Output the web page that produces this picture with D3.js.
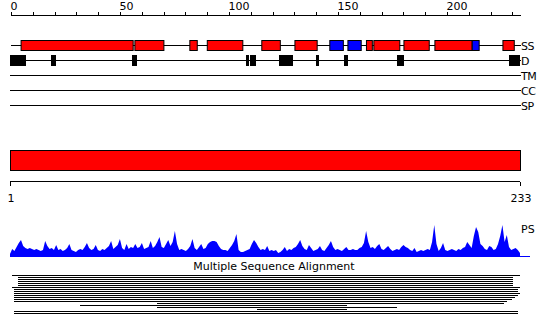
<!DOCTYPE html>
<html>
<head>
<meta charset="utf-8">
<script src="https://cdn.jsdelivr.net/npm/d3@7"></script>
<style>
  body { margin: 0; background: #fff; }
  svg { display: block; font-family: "DejaVu Sans", sans-serif; }
  text { fill: #000; }
</style>
</head>
<body>
<svg width="550" height="335"></svg>
<script>
// sequence length and top axis ticks
const seqLength = 233;
const topTicks = [0, 10, 20, 30, 40, 50, 60, 70, 80, 90, 100, 110, 120, 130, 140, 150, 160, 170, 180, 190, 200, 210, 220, 230];
const topLabels = [0, 50, 100, 150, 200];

// secondary structure (H = helix, E = strand), positions on the top axis
const ssFrom = [4.4, 56.6, 81.8, 89.8, 114.8, 130, 146, 154.3, 162.8, 166.2, 180, 194.2, 211.3, 225.4];
const ssTo   = [55.8, 69.9, 85.2, 106.1, 123.3, 140.2, 152.2, 160.4, 165.5, 178.1, 191.6, 211.3, 214.5, 230.6];
const ssType = ["H", "H", "H", "H", "H", "H", "E", "E", "H", "H", "H", "H", "E", "H"];

// disordered regions
const dFrom = [-0.5, 18.3, 55.5, 107.8, 109.8, 123.1, 139.9, 152.8, 177.1, 228.4];
const dTo   = [6.9, 20.6, 57.8, 109.3, 112.4, 129.2, 141.3, 154.6, 180.3, 233.5];

const trackNames = ["SS", "D", "TM", "CC", "SP"];

// domain bar and ruler
const domainFrom = 1, domainTo = 233;
const rulerLabels = [1, 233];

// per-residue PS profile
const psValues = [
  2, 7, 5, 9, 13, 16, 10, 8, 7, 8,
  7, 6, 7, 6, 5, 6, 15, 10, 7, 8,
  6, 11, 6, 7, 5, 6, 8, 12, 6, 5,
  4, 6, 7, 6, 9, 13, 8, 6, 7, 11,
  6, 5, 7, 6, 8, 10, 15, 7, 9, 11,
  17, 8, 6, 12, 7, 9, 8, 12, 8, 9,
  13, 7, 8, 9, 15, 8, 10, 14, 19, 9,
  8, 12, 16, 10, 14, 25, 12, 6, 7, 6,
  5, 7, 10, 17, 8, 6, 9, 12, 7, 8,
  12, 14, 15, 15, 14, 10, 7, 6, 6, 5,
  8, 11, 15, 22, 6, 4, 4, 5, 6, 7,
  12, 16, 13, 9, 6, 7, 6, 10, 5, 6,
  5, 6, 3, 4, 6, 9, 5, 7, 6, 8,
  9, 12, 16, 10, 7, 6, 11, 8, 5, 6,
  7, 10, 6, 5, 8, 11, 15, 9, 6, 7,
  6, 5, 7, 9, 6, 6, 7, 6, 6, 8,
  9, 13, 25, 14, 8, 9, 7, 10, 12, 7,
  6, 8, 10, 7, 5, 6, 7, 6, 9, 11,
  9, 8, 6, 5, 8, 4, 5, 6, 5, 6,
  7, 6, 14, 31, 12, 5, 8, 13, 6, 5,
  6, 7, 6, 5, 7, 6, 8, 9, 14, 11,
  8, 20, 29, 24, 12, 10, 7, 6, 10, 9,
  6, 7, 12, 20, 31, 14, 21, 9, 6, 7,
  8, 6, 3
];

// multiple sequence alignment rows (residue ranges)
const msaFrom = [1.9, 4.5, 4.5, 4.5, 4.5, 4.5, 1.9, 2.8, 2.8, 2.8, 2.8, 2.8, 2.8, 2.8, 67.9, 32.8, 67.9, 113.4, 2.8, 2.8];
const msaTo   = [233, 229.8, 229.8, 229.8, 229.8, 229.8, 233, 232, 232, 233, 232, 230.7, 229.2, 227, 225.7, 154.3, 177, 154.3, 232, 232];

const svg = d3.select("svg");

const x = d3.scaleLinear().domain([0, seqLength]).range([11, 519]);
const xr = d3.scaleLinear().domain([domainFrom, domainTo]).range([10, 520]);

// top axis
const axis = d3.axisTop(x)
  .tickValues(topTicks)
  .tickSize(4)
  .tickSizeOuter(0)
  .tickFormat(d => topLabels.includes(d) ? d : "");

const ax = svg.append("g")
  .attr("transform", "translate(0,15.5)")
  .call(axis);
ax.select(".domain").remove();
ax.selectAll("line").attr("stroke", "#000").attr("shape-rendering", "crispEdges");
ax.selectAll("text")
  .attr("text-anchor", "start")
  .attr("dx", -1)
  .attr("y", -6)
  .attr("font-size", 11)
  .attr("font-family", "DejaVu Sans");
ax.append("line")
  .attr("x1", 11).attr("x2", 521)
  .attr("stroke", "#000")
  .attr("shape-rendering", "crispEdges");

// tracks
const trackY = d3.scalePoint().domain(trackNames).range([45, 105]);

svg.append("g").selectAll("line")
  .data(trackNames)
  .join("line")
  .attr("x1", (d, i) => i === 0 ? 11 : 10)
  .attr("x2", 521)
  .attr("y1", d => trackY(d) + 0.5)
  .attr("y2", d => trackY(d) + 0.5)
  .attr("stroke", "#000")
  .attr("shape-rendering", "crispEdges");

svg.append("g").selectAll("text")
  .data(trackNames)
  .join("text")
  .attr("x", 521)
  .attr("y", d => trackY(d) + 5)
  .attr("font-size", 11)
  .attr("letter-spacing", -0.5)
  .text(d => d);

svg.append("g").selectAll("rect")
  .data(ssFrom.map((f, i) => ({ from: f, to: ssTo[i], type: ssType[i] })))
  .join("rect")
  .attr("x", d => x(d.from) + 0.5)
  .attr("y", trackY("SS") - 4.5)
  .attr("width", d => x(d.to) - x(d.from))
  .attr("height", 10)
  .attr("fill", d => d.type === "E" ? "#0000ff" : "#ff0000")
  .attr("stroke", "#000");

svg.append("g").selectAll("rect")
  .data(dFrom.map((f, i) => ({ from: f, to: dTo[i] })))
  .join("rect")
  .attr("x", d => x(d.from))
  .attr("y", trackY("D") - 5)
  .attr("width", d => x(d.to) - x(d.from))
  .attr("height", 11)
  .attr("fill", "#000")
  .attr("shape-rendering", "crispEdges");

// domain bar
svg.append("rect")
  .attr("x", xr(domainFrom) + 0.5)
  .attr("y", 150.5)
  .attr("width", xr(domainTo) - xr(domainFrom))
  .attr("height", 20)
  .attr("fill", "#ff0000")
  .attr("stroke", "#000");

// ruler
const ruler = svg.append("g").attr("transform", "translate(0,181.5)");
ruler.append("line")
  .attr("x1", xr(domainFrom)).attr("x2", xr(domainTo))
  .attr("stroke", "#000").attr("shape-rendering", "crispEdges");
ruler.selectAll("line.tick")
  .data(rulerLabels)
  .join("line")
  .attr("class", "tick")
  .attr("x1", d => xr(d) + 0.5).attr("x2", d => xr(d) + 0.5)
  .attr("y1", 0).attr("y2", 4)
  .attr("stroke", "#000").attr("shape-rendering", "crispEdges");
ruler.selectAll("text")
  .data(rulerLabels)
  .join("text")
  .attr("x", d => xr(d) + 1)
  .attr("y", 20)
  .attr("text-anchor", "middle")
  .attr("font-size", 11)
  .text(d => d);

// PS profile
const yps = d3.scaleLinear().domain([0, 35]).range([256, 221]);
const area = d3.area()
  .x((d, i) => xr(i + 1))
  .y0(yps(0))
  .y1(d => yps(d));

svg.append("path")
  .datum(psValues)
  .attr("d", area)
  .attr("fill", "#0000ff");

svg.append("line")
  .attr("x1", 10).attr("x2", 530)
  .attr("y1", yps(0) + 0.5).attr("y2", yps(0) + 0.5)
  .attr("stroke", "#0000ff")
  .attr("shape-rendering", "crispEdges");

svg.append("text")
  .attr("x", 521)
  .attr("y", 233)
  .attr("font-size", 11)
  .text("PS");

// multiple sequence alignment
svg.append("text")
  .attr("x", 274)
  .attr("y", 270)
  .attr("text-anchor", "middle")
  .attr("font-size", 11)
  .text("Multiple Sequence Alignment");

const msaY = d3.scaleLinear().domain([0, msaFrom.length - 1]).range([275, 313]);

svg.append("g").selectAll("rect")
  .data(msaFrom.map((f, i) => ({ from: f, to: msaTo[i], row: i })))
  .join("rect")
  .attr("x", d => Math.round(xr(d.from)))
  .attr("y", d => msaY(d.row))
  .attr("width", d => Math.round(xr(d.to) - xr(d.from)))
  .attr("height", 1)
  .attr("fill", "#000")
  .attr("shape-rendering", "crispEdges");
</script>
</body>
</html>
